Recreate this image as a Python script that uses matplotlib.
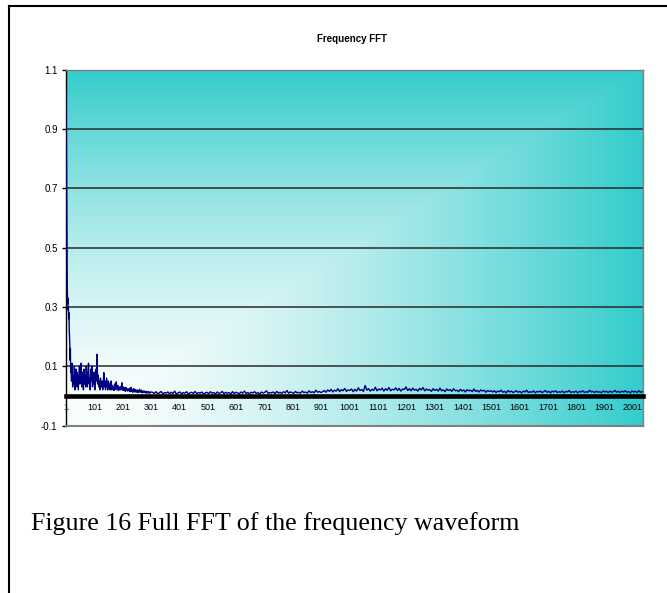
import numpy as np
import matplotlib
matplotlib.use("Agg")
import matplotlib.pyplot as plt
from matplotlib.lines import Line2D

# ---------------- data ----------------
n_categories = 2036
chart_title = "Frequency FFT"
caption = "Figure 16 Full FFT of the frequency waveform"

y_ticks = [-0.1, 0.1, 0.3, 0.5, 0.7, 0.9, 1.1]
y_tick_labels = ["-0.1", "0.1", "0.3", "0.5", "0.7", "0.9", "1.1"]
x_tick_cats = [1, 101, 201, 301, 401, 501, 601, 701, 801, 901, 1001,
               1101, 1201, 1301, 1401, 1501, 1601, 1701, 1801, 1901, 2001]

# categories 1..17 (step 1)
fft_head = [1.025, 0.86, 0.64, 0.47, 0.36, 0.31, 0.33, 0.29, 0.30, 0.26,
            0.28, 0.22, 0.20, 0.17, 0.12, 0.16, 0.08]
# categories 18..300 (step 2)
fft_low = [0.09, 0.05, 0.11, 0.03, 0.07, 0.04, 0.10, 0.02, 0.06, 0.09,
           0.03, 0.08, 0.05, 0.02, 0.07, 0.10, 0.04, 0.06, 0.11, 0.03,
           0.05, 0.08, 0.02, 0.09, 0.04, 0.07, 0.03, 0.10, 0.05, 0.03,
           0.08, 0.11, 0.04, 0.06, 0.02, 0.09, 0.05, 0.10, 0.03, 0.07,
           0.04, 0.08, 0.02, 0.06, 0.09, 0.05, 0.14,
           0.04, 0.07, 0.03, 0.05, 0.02, 0.06, 0.04, 0.03, 0.05, 0.02,
           0.04, 0.078, 0.03, 0.05, 0.02, 0.04, 0.06, 0.03, 0.02, 0.05,
           0.03, 0.04, 0.02, 0.03, 0.05,
           0.02, 0.035, 0.025, 0.03, 0.018, 0.04, 0.022, 0.03, 0.047, 0.02,
           0.028, 0.035, 0.018, 0.03, 0.025, 0.02, 0.032, 0.022, 0.044, 0.025,
           0.018, 0.03, 0.02, 0.026, 0.015, 0.028, 0.02, 0.024, 0.016, 0.022,
           0.018, 0.025, 0.014, 0.02, 0.028, 0.015, 0.022, 0.012, 0.019, 0.024,
           0.013, 0.017, 0.021, 0.012, 0.016, 0.02, 0.011, 0.018, 0.014, 0.022,
           0.012, 0.015, 0.019, 0.01, 0.014, 0.017, 0.011, 0.013, 0.016, 0.01,
           0.012, 0.015, 0.009, 0.013, 0.011, 0.014, 0.009, 0.012, 0.01, 0.013]
# categories 306..2034 (step 6)
fft_tail = [0.012, 0.008, 0.014, 0.007, 0.010, 0.015, 0.006, 0.011, 0.009, 0.013,
            0.007, 0.012, 0.008, 0.016, 0.006, 0.010, 0.013, 0.007, 0.011, 0.009,
            0.014, 0.006, 0.010, 0.012, 0.008, 0.015, 0.007, 0.011, 0.009, 0.013,
            0.006, 0.010, 0.012, 0.007, 0.014, 0.009, 0.011, 0.006, 0.013, 0.008,
            0.010, 0.015, 0.007, 0.012, 0.009, 0.011, 0.006, 0.014, 0.008, 0.012,
            0.010, 0.007, 0.013, 0.009, 0.016, 0.008, 0.011, 0.007, 0.012, 0.010,
            0.014, 0.008, 0.011, 0.006, 0.013, 0.009, 0.012, 0.017, 0.008, 0.011,
            0.010, 0.013, 0.007, 0.015, 0.009, 0.012, 0.008, 0.014, 0.010, 0.018,
            0.009, 0.013, 0.011, 0.008, 0.015, 0.010, 0.012, 0.009, 0.016, 0.011,
            0.013, 0.009, 0.017, 0.011, 0.014, 0.010, 0.019, 0.012, 0.015, 0.011,
            0.014, 0.018, 0.012, 0.020, 0.015, 0.022, 0.013, 0.019, 0.016, 0.024,
            0.014, 0.021, 0.017, 0.025, 0.015, 0.020, 0.018, 0.023, 0.014, 0.022,
            0.016, 0.027, 0.018, 0.021, 0.015, 0.035, 0.019, 0.024, 0.016, 0.022,
            0.018, 0.029, 0.017, 0.023, 0.020, 0.026, 0.016, 0.024, 0.019, 0.028,
            0.017, 0.022, 0.020, 0.027, 0.018, 0.025, 0.016, 0.023, 0.021, 0.030,
            0.018, 0.024, 0.017, 0.026, 0.019, 0.022, 0.016, 0.025, 0.020, 0.028,
            0.017, 0.023, 0.019, 0.021, 0.015, 0.024, 0.018, 0.022, 0.016, 0.026,
            0.017, 0.020, 0.014, 0.023, 0.018, 0.021, 0.015, 0.024, 0.017, 0.019,
            0.014, 0.022, 0.016, 0.020, 0.013, 0.021, 0.017, 0.019, 0.014, 0.023,
            0.015, 0.018, 0.013, 0.020, 0.016, 0.019, 0.012, 0.018, 0.015, 0.017,
            0.013, 0.017, 0.011, 0.016, 0.014, 0.019, 0.012, 0.015, 0.010, 0.018,
            0.013, 0.016, 0.011, 0.014, 0.017, 0.012, 0.015, 0.010, 0.016, 0.013,
            0.019, 0.011, 0.014, 0.012, 0.017, 0.010, 0.015, 0.013, 0.016, 0.011,
            0.014, 0.018, 0.012, 0.015, 0.010, 0.016, 0.013, 0.017, 0.011, 0.014,
            0.012, 0.016, 0.010, 0.015, 0.013, 0.018, 0.011, 0.014, 0.012, 0.016,
            0.010, 0.015, 0.013, 0.017, 0.011, 0.014, 0.012, 0.019, 0.013, 0.015,
            0.011, 0.016, 0.012, 0.014, 0.010, 0.017, 0.013, 0.015, 0.011, 0.016,
            0.012, 0.014, 0.018, 0.012, 0.015, 0.011, 0.016, 0.013, 0.017, 0.012,
            0.014, 0.010, 0.016, 0.013, 0.015, 0.011, 0.017, 0.012, 0.014]

cats_head = 1 + np.arange(len(fft_head))
cats_low = 18 + 2 * np.arange(len(fft_low))
cats_tail = 306 + 6 * np.arange(len(fft_tail))
cats = np.concatenate([cats_head, cats_low, cats_tail])
vals = np.concatenate([fft_head, fft_low, fft_tail])

# ---------------- figure ----------------
W, H = 667, 593
fig = plt.figure(figsize=(W / 100, H / 100), dpi=100)
fig.patch.set_facecolor("white")
sans = ["Liberation Sans", "DejaVu Sans"]

rect = [66 / W, 1 - 425.5 / H, (643 - 66) / W, (425.5 - 69.5) / H]

# gradient background (white bottom-left corner -> teal)
bg = fig.add_axes(rect, zorder=0)
gx = np.linspace(0, 1, 400)
gy = np.linspace(0, 1, 400)
GX, GY = np.meshgrid(gx, gy)
m = np.maximum(GX, GY)
t = np.clip((m - 0.08) / 0.92, 0, 1) ** 1.4
teal = np.array([0x33, 0xCC, 0xCC]) / 255.0
white = np.array([0.97, 0.99, 0.99])
img = white[None, None, :] * (1 - t[..., None]) + teal[None, None, :] * t[..., None]
bg.imshow(img, origin="lower", extent=[0, 1, 0, 1], aspect="auto", interpolation="bilinear")
bg.set_axis_off()

ax = fig.add_axes(rect, zorder=1)
ax.set_facecolor("none")

# spine setup first (set_position resets tick properties)
ax.spines["bottom"].set_position(("data", 0))
ax.spines["bottom"].set_linewidth(3.3)
ax.spines["bottom"].set_color("black")
ax.spines["bottom"].set_zorder(3)
ax.spines["left"].set_color("black")
ax.spines["left"].set_linewidth(1.0)
ax.spines["left"].set_zorder(1.5)
for s in ["top", "right"]:
    ax.spines[s].set_color("#808080")
    ax.spines[s].set_linewidth(1.0)

ax.set_xlim(0.5, n_categories + 0.5)
ax.set_ylim(-0.1, 1.1)

ax.set_yticks(y_ticks)
ax.set_yticklabels(y_tick_labels, fontsize=7, family=sans)
ax.yaxis.grid(True, color="#2a2a2a", linewidth=1.1)
ax.set_axisbelow(True)

ax.plot(cats, vals, color="#000080", linewidth=1.0, zorder=2)

ax.set_xticks(x_tick_cats)
ax.set_xticklabels([str(c) for c in x_tick_cats], fontsize=6.5, family=sans)
ax.tick_params(axis="x", length=0, pad=5.5)
ax.tick_params(axis="y", length=3, width=1, direction="out", pad=3, color="black")

ax.plot([0, 1], [0, 0], transform=ax.transAxes, color="#808080",
        linewidth=1.5, clip_on=False, zorder=3)

fig.text(352 / W, 1 - 39 / H, chart_title, ha="center", va="center",
         fontsize=7, fontweight="bold", family=sans)
fig.text(31 / W, 1 - 524 / H, caption, ha="left", va="center",
         fontsize=18.7, family=["Liberation Serif", "DejaVu Serif"])

# outer frame of the document box
fig.add_artist(Line2D([9 / W, 9 / W], [1 - 6 / H, 0], transform=fig.transFigure,
                      color="black", linewidth=1.5))
fig.add_artist(Line2D([9 / W, 1], [1 - 6 / H, 1 - 6 / H], transform=fig.transFigure,
                      color="black", linewidth=1.5))

fig.savefig("out.png", dpi=100)
